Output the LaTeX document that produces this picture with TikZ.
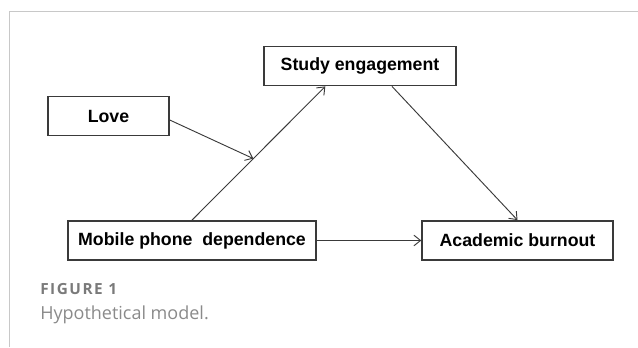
\documentclass[tikz,border=0pt]{standalone}
\usepackage{fontspec}
\usepackage{xcolor}
\usepackage{tikz}
\usetikzlibrary{positioning, arrows.meta, calc}
\setmainfont{Liberation Sans}
\newfontfamily\capfont{Open Sans}
\newfontfamily\figfont[LetterSpace=10]{Open Sans}
\definecolor{framegray}{HTML}{C8C8C8}
\definecolor{boxgray}{HTML}{3A3A3A}
\definecolor{figgray}{HTML}{7A7A7A}
\definecolor{capgray}{HTML}{8A8A8A}

\tikzset{
  varbox/.style={draw=boxgray, line width=1.1pt, minimum height=29.5pt,
                 inner sep=0pt, font=\fontsize{13.3}{16}\selectfont\bfseries},
  link/.style={draw=boxgray, line width=0.7pt,
               -{Straight Barb[length=5pt, width=8pt]}}
}

\begin{document}
\begin{tikzpicture}[x=0.75pt, y=-0.75pt]
    \useasboundingbox (0,0) rectangle (638,347);
    % page frame
    \draw[framegray, line width=1pt] (9.5,347) -- (9.5,11.5) -- (638,11.5);

    % variables
    \node[varbox, minimum width=90.75pt]  (love)    at (108.5,116)   {Love};
    \node[varbox, minimum width=144pt]    (study)   at (360,66)      {Study engagement};
    \node[varbox, minimum width=186pt]    (mobile)  at (192,240.5)   {Mobile phone\ \ dependence};
    \node[varbox, minimum width=143.25pt] (burnout) at (517.5,240.5) {Academic burnout};

    % paths
    \draw[link] (mobile.north) -- coordinate[pos=0.46] (mod) ([xshift=-26pt]study.south);
    \draw[link] ([yshift=-3pt]love.east) -- (mod);
    \draw[link] ([xshift=24pt]study.south) -- (burnout.north);
    \draw[link] (mobile.east) -- (burnout.west);

    % caption
    \node[anchor=base west, inner sep=0pt, text=figgray,
          font=\figfont\fontsize{11.5}{13}\selectfont\bfseries] (fig) at (40,294) {FIGURE 1};
    \node[anchor=base west, inner sep=0pt, text=capgray,
          font=\capfont\fontsize{13.5}{16}\selectfont] (cap) at (40,319) {Hypothetical model.};
\end{tikzpicture}
\end{document}
